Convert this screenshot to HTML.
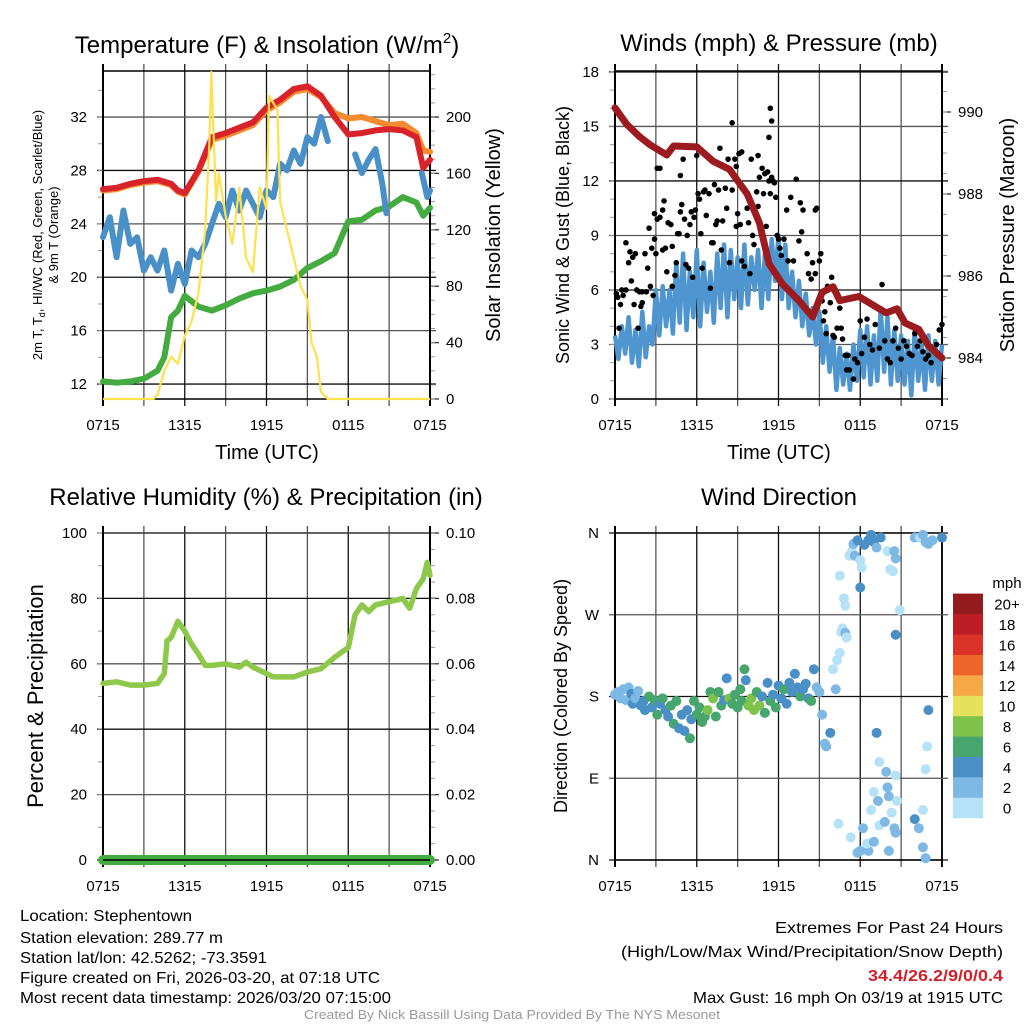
<!DOCTYPE html>
<html><head><meta charset="utf-8"><title>Stephentown Meteogram</title>
<style>
html,body{margin:0;padding:0;background:#fff;}
svg{display:block;font-family:"Liberation Sans",Arial,sans-serif;}
</style></head>
<body>
<svg id="fig" width="1024" height="1024" viewBox="0 0 1024 1024" xmlns="http://www.w3.org/2000/svg">
<rect width="1024" height="1024" fill="#fff"/>
<g font-size="24" text-anchor="middle" fill="#000">
<text x="267" y="53">Temperature (F) &amp; Insolation (W/m<tspan font-size="15" dy="-10">2</tspan><tspan dy="10">)</tspan></text>
<text x="779" y="51">Winds (mph) &amp; Pressure (mb)</text>
<text x="266" y="505">Relative Humidity (%) &amp; Precipitation (in)</text>
<text x="779" y="505">Wind Direction</text>
</g>
<g id="layer"></g>
<g fill="#000">
<text font-size="13" text-anchor="middle" transform="translate(42,235) rotate(-90)">2m T, T<tspan font-size="9" dy="3">d</tspan><tspan dy="-3">, HI/WC (Red, Green, Scarlet/Blue)</tspan></text>
<text font-size="13" text-anchor="middle" transform="translate(58,235) rotate(-90)">&amp; 9m T (Orange)</text>
<text font-size="20" text-anchor="middle" transform="translate(500,235) rotate(-90)">Solar Insolation (Yellow)</text>
<text font-size="20" text-anchor="middle" x="267" y="459">Time (UTC)</text>
<text font-size="18" text-anchor="middle" transform="translate(569,235) rotate(-90)">Sonic Wind &amp; Gust (Blue, Black)</text>
<text font-size="20" text-anchor="middle" transform="translate(1014,235) rotate(-90)">Station Pressure (Maroon)</text>
<text font-size="20" text-anchor="middle" x="779" y="459">Time (UTC)</text>
<text font-size="22" text-anchor="middle" transform="translate(43,696) rotate(-90)">Percent &amp; Precipitation</text>
<text font-size="18" text-anchor="middle" transform="translate(567,696) rotate(-90)">Direction (Colored By Speed)</text>
</g>
<g font-size="16" fill="#000">
<text x="20" y="921" textLength="172" lengthAdjust="spacingAndGlyphs">Location: Stephentown</text>
<text x="20" y="943" textLength="203" lengthAdjust="spacingAndGlyphs">Station elevation: 289.77 m</text>
<text x="20" y="963" textLength="247" lengthAdjust="spacingAndGlyphs">Station lat/lon: 42.5262; -73.3591</text>
<text x="20" y="983" textLength="360" lengthAdjust="spacingAndGlyphs">Figure created on Fri, 2026-03-20, at 07:18 UTC</text>
<text x="20" y="1003" textLength="371" lengthAdjust="spacingAndGlyphs">Most recent data timestamp: 2026/03/20 07:15:00</text>
<text x="1003" y="933" text-anchor="end" textLength="228" lengthAdjust="spacingAndGlyphs">Extremes For Past 24 Hours</text>
<text x="1003" y="957" text-anchor="end" textLength="382" lengthAdjust="spacingAndGlyphs">(High/Low/Max Wind/Precipitation/Snow Depth)</text>
<text x="1003" y="981" text-anchor="end" fill="#d0202a" font-weight="bold" textLength="135" lengthAdjust="spacingAndGlyphs">34.4/26.2/9/0/0.4</text>
<text x="1003" y="1003" text-anchor="end" textLength="310" lengthAdjust="spacingAndGlyphs">Max Gust: 16 mph On 03/19 at 1915 UTC</text>
<text x="512" y="1019" text-anchor="middle" font-size="12.5" fill="#999" textLength="416" lengthAdjust="spacingAndGlyphs">Created By Nick Bassill Using Data Provided By The NYS Mesonet</text>
</g>
</svg>
<script>
// ---------- DATA ----------
const xTickLabels = ["0715","1315","1915","0115","0715"];
const tempTicks = [12,16,20,24,28,32];
const solarTicks = [0,40,80,120,160,200];
const windTicks = [0,3,6,9,12,15,18];
const presTicks = [984,986,988,990];
const rhTicks = [0,20,40,60,80,100];
const precipTicks = ["0.00","0.02","0.04","0.06","0.08","0.10"];
const dirTicks = ["N","E","S","W","N"];

const tHours = [0,1,2,3,4,5,5.5,6,7,8,9,10,11,12,13,14,15,16,17,18,19,20,21,22,23,23.5,24];
const tempRed = [26.6,26.7,27.0,27.2,27.3,27.0,26.5,26.3,28.0,30.5,30.8,31.2,31.6,32.7,33.3,34.1,34.3,33.6,32.0,30.7,30.8,31.0,31.1,31.0,30.5,28.2,28.8];
const temp9m = [26.5,26.6,26.9,27.1,27.2,26.9,26.4,26.2,27.9,30.3,30.6,31.0,31.4,32.5,33.1,33.9,34.1,33.5,32.3,31.9,32.0,31.7,31.4,31.5,30.8,29.5,29.4];
const dewHours = [0,1,2,3,4,4.5,5,5.5,6,7,8,9,10,11,12,13,14,15,16,17,18,19,20,21,22,23,23.5,24];
const dewGreen = [12.2,12.1,12.2,12.4,13.0,14.0,17.0,17.5,18.6,17.8,17.5,17.9,18.4,18.8,19.0,19.3,19.8,20.7,21.2,21.8,24.2,24.3,25.0,25.3,26.0,25.6,24.6,25.2];
const wcHours = [0,0.5,1,1.5,2,2.5,3,3.5,4,4.5,5,5.5,6,6.5,7,7.5,8,8.5,9,9.5,10,10.5,11,11.5,12,12.5,13,13.5,14,14.5,15,15.5,16,16.5,17,18.5,19,19.5,20,20.5,20.8,21,23.4,23.8,24];
const wcBlue = [23.0,24.5,21.5,25.0,22.5,23.0,20.5,21.5,20.5,22.0,19.0,21.0,19.5,22.0,21.5,22.5,24.0,25.5,24.5,26.5,25.0,26.5,25.5,24.5,26.5,26.0,28.5,28.0,29.5,28.5,30.5,30.0,32.0,30.2,null,29.2,27.8,28.8,29.6,27.0,24.8,null,27.8,26.0,26.5];
const solHours = [0,3.7,4,4.5,5,5.5,6,6.5,7,7.5,7.8,7.95,8.3,8.5,9,9.5,10,10.5,11,11.5,12,12.2,12.8,13,13.5,14,14.5,15,15.3,15.7,16,16.5,24];
const solar = [0,0,3,20,30,25,45,55,75,120,180,232,140,160,130,110,150,100,90,150,135,215,205,140,120,100,80,70,40,30,5,0,0];

const presHours = [0,0.86,1.8,2.57,3.8,4.3,6.0,7.2,8.4,9.7,10.6,11.3,12.3,13.5,14.5,15.2,16.0,16.5,17.9,18.9,19.9,20.7,21.3,22.3,23,24];
const pressure = [990.1,989.7,989.4,989.2,988.95,989.17,989.15,988.8,988.6,988.0,987.3,986.3,985.8,985.4,985.0,985.6,985.74,985.4,985.5,985.3,985.1,985.2,984.85,984.7,984.3,984.0];
const windSpeed = [3.5,2.2,4.0,2.5,4.5,2.0,3.8,1.8,4.8,2.3,
 4.0,3.0,6.0,3.5,6.2,4.0,6.0,3.6,7.5,4.2,
 8.0,3.8,7.0,4.5,8.2,4.0,7.5,4.8,7.0,4.2,
 8.0,5.0,8.5,4.5,8.2,5.5,7.8,5.0,8.5,5.2,
 7.8,6.0,8.2,5.0,8.0,5.5,8.8,6.5,9.0,5.5,
 8.5,5.0,7.0,4.5,6.5,4.0,5.8,3.5,5.0,3.0,
 4.8,2.0,4.0,1.5,3.5,0.5,2.8,0.8,2.5,0.5,
 3.0,1.0,3.8,1.2,4.0,0.8,3.5,1.0,5.0,1.5,
 4.5,0.8,3.8,1.0,3.5,0.8,3.2,0.2,3.8,1.0,
 3.0,0.5,3.5,1.0,3.2,0.8,3.0];
const windHours = windSpeed.map((v, i) => i * 0.25);
const gustHours = [0.1,0.2,0.3,0.4,0.5,0.6,0.8,0.8,1.0,1.1,1.2,1.3,1.4,1.5,1.6,1.7,1.8,1.9,2.0,2.0,2.2,2.3,2.4,2.5,2.6,2.7,2.8,2.9,2.9,3.0,3.1,3.1,3.3,3.3,3.5,3.5,3.6,3.7,3.8,3.9,4.1,4.2,4.2,4.4,4.5,4.6,4.7,4.8,4.8,4.9,5.0,5.1,5.2,5.3,5.4,5.5,5.6,5.7,5.8,5.9,6.0,6.1,6.2,6.3,6.4,6.5,6.6,6.7,6.9,7.0,7.1,7.2,7.3,7.4,7.5,7.6,7.7,7.8,7.9,8.1,8.2,8.3,8.4,8.6,8.6,8.8,8.9,8.9,9.0,9.1,9.2,9.3,9.3,9.5,9.7,9.8,9.9,10.0,10.1,10.2,10.4,10.5,10.5,10.6,10.8,10.9,11.0,11.1,11.2,11.3,11.3,11.4,11.5,11.4,11.5,11.6,11.7,11.8,11.9,12.0,12.1,12.2,12.4,12.6,12.7,12.9,13.1,13.3,13.5,13.6,13.7,13.8,14.1,14.2,14.4,14.5,14.7,14.7,14.8,15.0,15.1,15.2,15.3,15.4,15.5,15.6,15.8,15.9,16.0,16.1,16.3,16.5,16.6,16.7,16.9,17.0,17.1,17.2,17.5,17.6,17.8,18.0,18.1,18.3,18.5,18.7,18.9,19.1,19.4,19.6,19.8,20.0,20.2,20.4,20.6,20.8,21.0,21.2,21.4,21.6,21.8,22.0,22.2,22.4,22.6,22.8,23.0,23.2,23.6,23.8,24.0];
const gustSpeed = [5.8,5.6,3.9,5.2,6.0,5.7,6.0,8.6,7.5,8.1,6.5,7.8,5.2,8.0,6.0,3.9,5.9,5.1,5.9,5.3,8.0,5.9,7.2,9.4,6.2,8.3,5.7,8.8,10.2,8.0,9.9,12.7,10.0,12.7,10.4,8.2,10.9,8.3,7.0,9.7,9.6,8.4,6.2,6.8,7.5,9.1,9.1,10.3,12.3,10.7,13.2,9.9,7.4,9.0,7.2,9.6,10.3,6.7,10.0,10.4,13.4,11.3,11.0,9.1,7.2,11.4,11.5,10.1,11.3,6.1,8.6,8.6,11.8,9.6,9.8,11.5,13.8,8.2,9.8,11.6,10.5,13.2,7.5,11.5,15.2,13.2,12.8,9.5,10.2,13.5,9.6,7.6,13.6,7.3,10.5,9.7,6.9,13.2,9.0,8.5,11.4,10.6,13.4,12.2,12.7,11.3,12.4,9.5,12.5,12.0,14.4,16.0,15.3,11.3,12.2,12.0,11.9,11.1,9.0,8.8,8.3,7.9,8.8,10.4,7.6,11.1,7.6,12.1,8.7,10.8,9.2,10.4,8.0,6.9,6.6,7.5,10.4,6.9,10.5,7.6,8.0,5.4,4.3,4.8,3.6,6.2,5.3,6.7,3.5,3.4,3.9,5.0,3.9,3.3,2.4,1.6,2.4,1.6,1.1,2.2,2.0,4.3,2.5,3.4,4.4,3.0,2.7,4.1,2.8,6.3,3.2,2.2,2.0,3.2,3.9,2.8,2.2,3.2,2.9,2.5,2.4,3.6,2.9,3.2,2.6,2.2,2.4,2.0,3.0,3.8,4.1];

const rhHours = [0,1,2,3,4,4.5,4.7,5,5.5,6,6.5,7,7.5,8,9,10,10.5,11,12,12.5,13,14,15,16,17,18,18.5,19,19.5,20,21,22,22.5,23,23.5,23.8,24];
const rh = [54,54.5,53.5,53.5,54,57,67,68,73,70,66,63,59.5,59.5,60,59,60.5,59,57,56,56,56,57.5,58.5,62,65,75,78,76,78,79,80,77,83,86,91,87];
const precipHours = [0,24];
const precip = [0,0];

const dirHours = [0,0.2,0.4,0.6,0.8,1.0,1.2,1.3,1.5,1.7,1.9,2.1,2.2,2.5,2.7,2.9,3.1,3.3,3.5,3.7,3.9,4.1,4.3,4.5,4.7,4.9,5.1,5.3,5.5,5.6,5.8,6.0,6.2,6.4,6.6,6.8,7.0,7.2,7.4,7.6,7.8,8.0,8.2,8.4,8.6,8.8,9.0,9.2,9.3,9.5,9.6,9.8,10.0,10.2,10.4,10.6,10.8,11.0,11.2,11.4,11.6,11.8,12.0,12.2,12.4,12.6,12.8,13.0,13.2,13.4,13.6,13.8,14.0,14.2,14.4,14.6,14.8,15.0,15.2,15.4,15.5,15.8,16.0,16.2,16.3,16.5,16.6,16.7,16.8,16.9,17.0,16.5,16.9,17.2,17.4,17.5,17.6,17.8,18.0,18.1,18.0,18.3,18.6,18.8,19.0,19.2,19.5,20.0,20.2,20.4,20.5,20.6,20.9,20.6,22.0,22.4,22.6,22.8,23.0,23.3,24.0,16.4,17.3,17.8,18.0,18.2,18.6,18.5,18.8,19.0,19.0,19.3,19.4,19.2,19.4,19.8,19.9,20.0,20.1,20.1,20.3,20.5,20.6,20.6,20.7,22.0,22.3,22.6,22.8,22.9,22.8,22.6,23.0];
const dirDeg = [182,185,178,188,176,190,183,172,178,186,170,175,165,180,168,176,160,172,178,165,158,170,150,175,145,160,142,165,134,155,175,160,168,152,158,165,185,178,158,185,170,176,200,178,172,182,168,188,175,210,198,170,178,165,185,170,180,162,195,175,182,168,192,178,188,172,195,185,205,190,180,188,194,178,175,210,190,185,160,128,125,140,210,188,220,228,251,255,288,250,245,313,280,335,340,348,335,352,330,322,300,347,352,358,350,344,355,340,320,318,340,332,275,248,355,355,358,350,348,352,355,40,25,8,10,35,10,18,55,75,20,65,38,140,108,42,97,80,70,10,52,35,30,93,65,45,35,14,2,125,100,55,165];
const dirSpeed = [2,2,3,3,2,3,4,4,2,3,4,4,4,6,4,6,6,4,6,4,4,7,6,6,4,4,4,4,6,4,6,6,6,6,6,8,6,8,6,6,6,4,4,8,6,6,6,6,6,6,4,8,8,8,6,8,4,6,4,6,4,6,4,4,6,4,4,4,4,4,6,4,4,4,6,4,2,2,2,2,2,4,0,2,0,0,0,0,0,2,0,0,0,0,0,2,2,4,0,0,4,4,4,4,4,2,4,0,0,0,2,2,0,4,2,0,2,2,2,2,4,0,0,2,2,2,2,0,0,0,2,2,0,4,0,2,2,2,2,2,0,2,2,0,0,4,2,2,2,0,0,0,4];
const speedColors = ["#b5e2f7","#7db9e4","#4a8fc6","#47a56e","#7cc24b","#e6e05a","#f5a845","#ef6429","#dc3328","#bd1d25","#931a1d"];
const speedLabels = ["0","2","4","6","8","10","12","14","16","18","20+"];

// ---------- SCALES ----------
const NS = "http://www.w3.org/2000/svg";
const layer = document.getElementById("layer");
const PW = 327;
const xAt = (x0, h) => x0 + h * PW / 24;
const yTemp = t => 399 - (t - 10.88) * 13.35;
const ySol = s => 399 - s * 1.41;
const yWind = v => 399 - v * 18.17;
const yPres = p => 358 - (p - 984) * 41;
const yRH = v => 860 - v * 3.27;
const yPrecip = v => 860 - v * 3270;
const yDir = d => 860 - d * 0.9083;

function el(tag, attrs, parent) {
  const e = document.createElementNS(NS, tag);
  for (const k in attrs) e.setAttribute(k, attrs[k]);
  (parent || layer).appendChild(e);
  return e;
}
function pathFrom(hours, vals, x0, yf) {
  let d = "", pen = false;
  for (let i = 0; i < hours.length; i++) {
    if (vals[i] === null) { pen = false; continue; }
    d += (pen ? "L" : "M") + xAt(x0, hours[i]).toFixed(1) + "," + yf(vals[i]).toFixed(1);
    pen = true;
  }
  return d;
}

function frame(x0, top, bot, name) {
  const g = el("g", {});
  
  
  for (let i = 0; i <= 8; i++) {
    const x = xAt(x0, i * 3);
    const ln = el("line", {x1: x, x2: x, y1: top - 7, y2: bot + 7, stroke: i % 2 ? "#555" : "#111", "stroke-width": i === 0 || i === 8 ? 2 : 1.3}, g);
    
    
  }
  const tl = el("line", {x1: x0, x2: x0 + PW, y1: top, y2: top, stroke: "#000", "stroke-width": 1.5}, g);
  
  
  xTickLabels.forEach((lab, i) => {
    const t = el("text", {x: xAt(x0, i * 6), y: bot + 31, "font-size": 15, "text-anchor": "middle"}, g);
    t.textContent = lab;
    
    
  });
  return g;
}
function yAxis(x0, ticks, labels, yf, side, minorStep, gridOn, name, bottomPanel) {
  const g = el("g", {});
  
  
  const xe = side === "L" ? x0 : x0 + PW;
  const dir = side === "L" ? -1 : 1;
  ticks.forEach((v, i) => {
    const y = yf(v);
    if (gridOn) {
      const gl = el("line", {x1: x0 - 6, x2: x0 + PW + 6, y1: y, y2: y, stroke: i % 2 ? "#555" : "#111", "stroke-width": 1.3}, g);
      
      
    } else {
      const tk = el("line", {x1: xe, x2: xe + dir * 9, y1: y, y2: y, stroke: "#333", "stroke-width": 1.3}, g);
      
      
    }
    const t = el("text", {x: xe + dir * 16, y: y + 5, "font-size": 15, "text-anchor": side === "L" ? "end" : "start"}, g);
    t.textContent = labels[i];
    
    
  });
  if (minorStep) {
    for (let v = minorStep[0]; v <= minorStep[1] + 1e-9; v += minorStep[2]) {
      const y = yf(v);
      const tk = el("line", {x1: xe, x2: xe + dir * 5, y1: y, y2: y, stroke: "#999", "stroke-width": 1}, g);
      
      
    }
  }
  const ax = el("line", {x1: xe, x2: xe, y1: bottomPanel ? 526 : 64, y2: bottomPanel ? 867 : 406, stroke: "#000", "stroke-width": 2}, g);
  
  
}

// ---------- PANEL 1: Temperature ----------
frame(103, 71, 399, "temperature");
yAxis(103, tempTicks, tempTicks.map(String), yTemp, "L", [12, 34, 2], true, "temp-left-axis", false);
yAxis(103, solarTicks, solarTicks.map(String), ySol, "R", [0, 230, 10], false, "solar-right-axis", false);
const bl = el("line", {x1: 103, x2: 430, y1: 399, y2: 399, stroke: "#000", "stroke-width": 1.5});


let p;
p = el("path", {d: pathFrom(dewHours, dewGreen, 103, yTemp), fill: "none", stroke: "#43ab3f", "stroke-width": 6, "stroke-linejoin": "round", "stroke-linecap": "round"});


p = el("path", {d: pathFrom(wcHours, wcBlue, 103, yTemp), fill: "none", stroke: "#4a90c8", "stroke-width": 6, "stroke-linejoin": "round", "stroke-linecap": "round"});


p = el("path", {d: pathFrom(tHours, temp9m, 103, yTemp), fill: "none", stroke: "#f58a2e", "stroke-width": 6, "stroke-linejoin": "round", "stroke-linecap": "round"});


p = el("path", {d: pathFrom(tHours, tempRed, 103, yTemp), fill: "none", stroke: "#d8232a", "stroke-width": 6, "stroke-linejoin": "round", "stroke-linecap": "round"});


p = el("path", {d: pathFrom(solHours, solar, 103, ySol), fill: "none", stroke: "#fde14e", "stroke-width": 2.2, "stroke-linejoin": "round"});



// ---------- PANEL 2: Winds ----------
frame(615, 71, 399, "winds");
yAxis(615, windTicks, windTicks.map(String), yWind, "L", [0, 18, 1], true, "wind-left-axis", false);
yAxis(615, presTicks, presTicks.map(String), yPres, "R", [983, 991, 0.5], false, "pressure-right-axis", false);
const bl2 = el("line", {x1: 615, x2: 942, y1: 399, y2: 399, stroke: "#000", "stroke-width": 1.5});


p = el("path", {d: pathFrom(windHours, windSpeed, 615, yWind), fill: "none", stroke: "#4f95cf", "stroke-width": 4.5, "stroke-linejoin": "round"});


gustHours.forEach((h, i) => {
  const c = el("circle", {cx: xAt(615, h), cy: yWind(gustSpeed[i]), r: 2.8, fill: "#000"});
  
  
});
p = el("path", {d: pathFrom(presHours, pressure, 615, yPres), fill: "none", stroke: "#9b1b1e", "stroke-width": 7, "stroke-linejoin": "round", "stroke-linecap": "round"});



// ---------- PANEL 3: Humidity ----------
frame(103, 533, 860, "humidity");
yAxis(103, rhTicks, rhTicks.map(String), yRH, "L", [0, 100, 10], true, "rh-left-axis", true);
yAxis(103, precipTicks.map(Number), precipTicks, yPrecip, "R", [0, 0.1, 0.005], false, "precip-right-axis", true);
p = el("path", {d: pathFrom(rhHours, rh, 103, yRH), fill: "none", stroke: "#8dc84b", "stroke-width": 5.5, "stroke-linejoin": "round", "stroke-linecap": "round"});


p = el("path", {d: pathFrom(precipHours, precip, 103, yPrecip), fill: "none", stroke: "#43ab3f", "stroke-width": 10, "stroke-linecap": "round"});


const bl3 = el("line", {x1: 103, x2: 430, y1: 860, y2: 860, stroke: "#000", "stroke-width": 1.5});



// ---------- PANEL 4: Wind direction ----------
frame(615, 533, 860, "direction");
yAxis(615, [0, 90, 180, 270, 360], dirTicks, yDir, "L", null, true, "direction-left-axis", true);
const bl4 = el("line", {x1: 615, x2: 942, y1: 860, y2: 860, stroke: "#000", "stroke-width": 1.5});


dirHours.forEach((h, i) => {
  const bin = Math.min(10, Math.floor(dirSpeed[i] / 2));
  const c = el("circle", {cx: xAt(615, h), cy: yDir(dirDeg[i]), r: 5, fill: speedColors[bin]});
  
  
});
// legend
const lg = el("g", {});


const mt = el("text", {x: 1007, y: 588, "font-size": 15, "text-anchor": "middle"}, lg);
mt.textContent = "mph";


speedColors.forEach((col, i) => {
  const yb = 818 - (i + 1) * 20.4;
  const r = el("rect", {x: 953, y: yb, width: 30, height: 20.6, fill: col}, lg);
  
  
  const t = el("text", {x: 1007, y: yb + 16, "font-size": 15, "text-anchor": "middle"}, lg);
  t.textContent = speedLabels[i];
  
  
});
</script>
</body></html>
